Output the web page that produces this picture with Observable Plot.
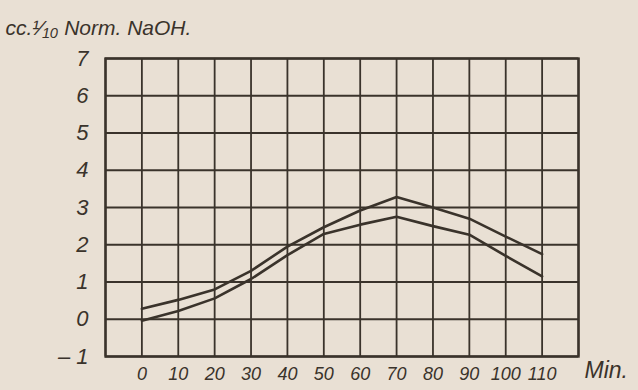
<!DOCTYPE html>
<html>
<head>
<meta charset="utf-8">
<script src="https://cdn.jsdelivr.net/npm/d3@7"></script>
<script src="https://cdn.jsdelivr.net/npm/@observablehq/plot@0.6"></script>
<style>
  html, body { margin: 0; padding: 0; background: #e9e0d4; }
</style>
</head>
<body>
<div id="chart"></div>
<script>
const minutes = [0, 10, 20, 30, 40, 50, 60, 70, 80, 90, 100, 110];
const upperSeries = [0.28, 0.52, 0.8, 1.3, 1.95, 2.47, 2.92, 3.28, 3.0, 2.7, 2.22, 1.75];
const lowerSeries = [-0.04, 0.22, 0.56, 1.08, 1.72, 2.29, 2.54, 2.75, 2.5, 2.27, 1.7, 1.15];
const xTickLabels = [0, 10, 20, 30, 40, 50, 60, 70, 80, 90, 100, 110];
const yTickLabels = [-1, 0, 1, 2, 3, 4, 5, 6, 7];
const xGridLines = [-10, 0, 10, 20, 30, 40, 50, 60, 70, 80, 90, 100, 110, 120];
const yGridLines = [-1, 0, 1, 2, 3, 4, 5, 6, 7];
const yTitle = "cc.¹⁄₁₀ Norm. NaOH.";
const xTitle = "Min.";

const rows = [];
minutes.forEach((m, i) => {
  rows.push({m, v: upperSeries[i], s: "upper"});
  rows.push({m, v: lowerSeries[i], s: "lower"});
});

const ink = "#3a332b";
const chart = Plot.plot({
  width: 638,
  height: 390,
  marginLeft: 105,
  marginRight: 60,
  marginTop: 58,
  marginBottom: 34,
  style: {background: "#e9e0d4", color: ink, fontFamily: "'Liberation Sans', sans-serif", fontStyle: "italic"},
  x: {domain: [-10, 120], label: null},
  y: {domain: [-1, 7], label: null},
  marks: [
    Plot.ruleX(xGridLines, {x: d => d, stroke: ink, strokeWidth: 1.8}),
    Plot.ruleY(yGridLines, {y: d => d, stroke: ink, strokeWidth: 1.8}),
    Plot.frame({stroke: ink, strokeWidth: 2.4}),
    Plot.axisX({ticks: xTickLabels, tickSize: 0, tickPadding: 11, fontSize: 18, label: null, tickFormat: d => String(d)}),
    Plot.axisY({ticks: yTickLabels, tickSize: 0, tickPadding: 17, fontSize: 22, label: null, tickFormat: d => d < 0 ? "– " + Math.abs(d) : String(d)}),
    Plot.line(rows, {x: "m", y: "v", z: "s", stroke: ink, strokeWidth: 2.6}),
    Plot.text([yTitle], {frameAnchor: "top-left", dx: -100, dy: -38, text: d => d, fontSize: 21, textAnchor: "start", fill: ink}),
    Plot.text([xTitle], {frameAnchor: "bottom-right", dx: 6, dy: 21, text: d => d, fontSize: 23, textAnchor: "start", fill: ink})
  ]
});
document.getElementById("chart").appendChild(chart);
</script>
</body>
</html>
